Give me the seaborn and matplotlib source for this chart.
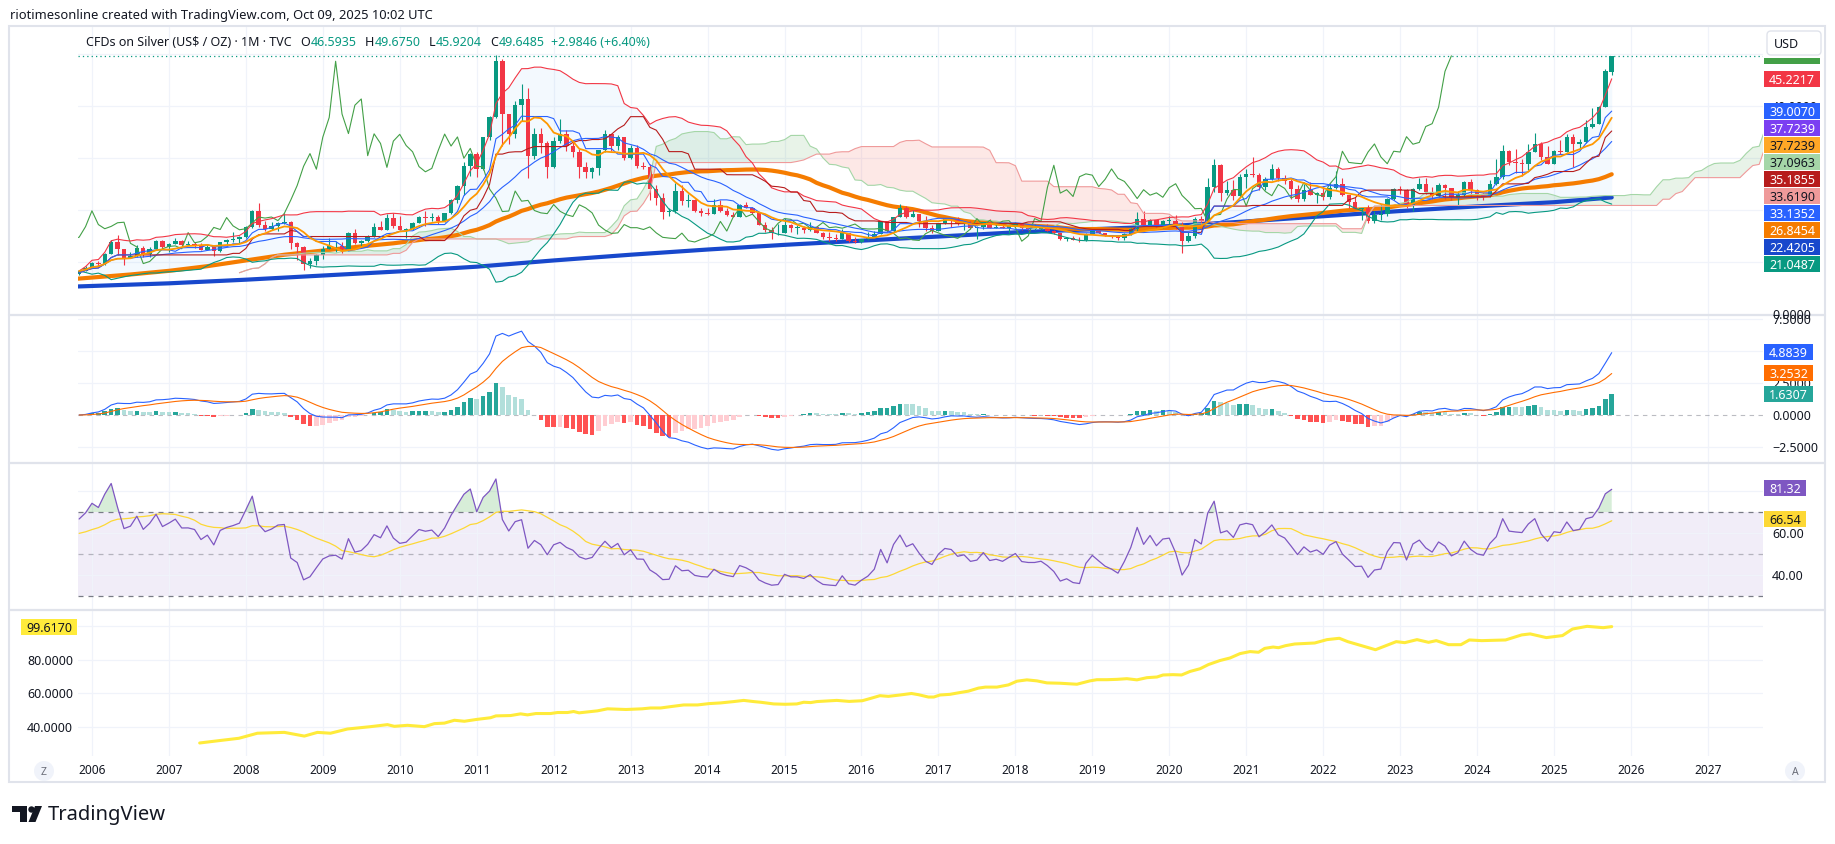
import numpy as np
import pandas as pd
import matplotlib
matplotlib.use("Agg")
import matplotlib.pyplot as plt
import seaborn as sns
from matplotlib.patches import Rectangle, Circle, Polygon, FancyBboxPatch
from matplotlib.lines import Line2D

sns.set_theme(style="white")
plt.rcParams["font.family"] = ["Noto Sans", "DejaVu Sans"]

# ---------------- data (monthly candles, Nov 2005 .. Oct 2025) ----------------
start_month = "2005-11-01"
opens = [
    7.65, 8.27,
    8.83, 9.88, 9.70, 11.54, 13.85, 12.41, 10.83, 11.16, 12.65, 11.56, 12.45, 13.98,
    12.90, 13.45, 14.10, 13.34, 13.35, 13.22, 12.40, 12.90, 12.08, 13.80, 14.20, 14.45,
    14.77, 16.80, 19.85, 17.20, 16.40, 16.85, 17.55, 17.65, 13.60, 12.90, 9.70, 10.10,
    11.30, 12.55, 13.00, 13.10, 12.55, 15.65, 13.70, 13.95, 14.95, 16.65, 16.25, 18.55,
    16.95, 16.20, 16.40, 17.50, 18.65, 18.45, 18.65, 17.95, 19.35, 21.90, 24.70, 28.40,
    30.85, 27.85, 34.00, 37.80, 48.60, 38.45, 34.70, 40.15, 41.35, 30.45, 34.65, 32.80,
    28.20, 33.25, 34.55, 32.40, 31.20, 28.35, 27.35, 28.00, 31.45, 34.60, 32.30, 34.05,
    29.95, 31.85, 28.40, 28.30, 24.05, 22.30, 19.70, 19.80, 23.65, 21.70, 21.85, 19.90,
    19.45, 19.30, 21.05, 19.75, 19.10, 18.75, 21.00, 20.40, 19.45, 17.10, 16.15, 15.50,
    15.60, 17.20, 16.60, 16.60, 16.25, 16.75, 15.60, 14.75, 14.60, 14.50, 15.55, 14.10,
    13.85, 14.35, 14.75, 15.45, 17.80, 15.95, 18.65, 20.35, 18.70, 19.20, 17.80, 16.50,
    15.95, 17.45, 18.35, 18.20, 17.25, 17.45, 16.55, 16.70, 17.60, 16.60, 16.75, 16.50,
    16.90, 17.30, 16.45, 16.35, 16.35, 16.45, 16.05, 15.50, 14.50, 14.65, 14.25, 14.15,
    15.45, 16.05, 15.60, 15.15, 14.90, 14.55, 15.30, 16.35, 18.35, 17.00, 18.00, 17.10,
    17.85, 17.95, 16.65, 14.00, 15.00, 18.35, 17.80, 24.35, 28.60, 23.25, 23.90, 22.60,
    26.40, 26.95, 26.70, 24.50, 25.90, 27.90, 26.10, 25.50, 23.95, 22.20, 23.90, 22.85,
    23.30, 22.45, 24.30, 25.05, 22.80, 21.60, 20.25, 20.30, 17.85, 19.00, 19.15, 22.10,
    23.95, 23.90, 20.80, 24.10, 25.00, 23.55, 22.75, 24.90, 24.15, 22.30, 22.90, 25.30,
    23.80, 22.95, 22.70, 24.95, 26.40, 31.30, 29.15, 29.00, 28.90, 31.15, 32.70, 30.20,
    28.90, 31.30, 31.15, 34.10, 32.65, 33.00, 36.05, 36.60, 39.75, 46.5935,
]
highs = [
    8.35, 9.23,
    9.97, 10.20, 11.79, 14.20, 15.21, 12.50, 12.00, 13.20, 13.00, 12.80, 14.20, 14.20,
    13.70, 14.65, 14.30, 14.10, 13.80, 13.75, 13.40, 13.10, 13.85, 14.40, 15.80, 14.96,
    17.00, 20.00, 21.35, 17.80, 17.60, 17.70, 19.45, 17.80, 13.80, 13.00, 10.80, 11.50,
    13.00, 14.60, 14.00, 13.80, 15.80, 16.30, 14.30, 15.20, 17.50, 17.95, 19.20, 19.40,
    18.90, 16.45, 17.70, 18.80, 19.80, 19.50, 19.00, 19.50, 22.15, 24.85, 29.30, 31.00,
    31.10, 34.10, 38.15, 49.80, 49.00, 38.50, 40.95, 44.25, 43.40, 35.70, 35.80, 33.20,
    34.10, 37.50, 35.40, 33.20, 31.80, 29.30, 28.30, 31.60, 35.35, 34.70, 34.50, 34.10,
    32.45, 32.45, 29.20, 28.85, 24.90, 23.30, 20.40, 25.10, 24.80, 23.00, 22.10, 20.40,
    20.40, 22.20, 22.00, 20.30, 19.70, 21.25, 21.60, 20.55, 19.55, 17.60, 16.75, 17.30,
    18.50, 17.35, 17.20, 16.90, 17.75, 16.95, 15.70, 15.70, 15.35, 16.40, 15.60, 14.80,
    14.50, 15.80, 16.00, 17.85, 17.90, 18.70, 21.15, 20.70, 20.00, 19.30, 18.90, 17.20,
    17.50, 18.50, 18.45, 18.65, 17.50, 17.90, 16.95, 17.70, 18.20, 17.45, 17.35, 17.10,
    17.70, 17.40, 16.75, 17.35, 16.75, 17.30, 16.10, 15.55, 14.90, 14.95, 14.80, 15.60,
    16.20, 16.20, 15.65, 15.25, 15.00, 15.50, 16.60, 19.65, 19.75, 18.20, 18.10, 18.05,
    18.85, 18.95, 17.60, 15.75, 18.70, 18.90, 26.20, 29.85, 28.90, 25.60, 25.85, 26.95,
    27.90, 30.10, 27.10, 26.40, 28.75, 28.30, 26.75, 25.90, 24.85, 25.05, 25.40, 23.40,
    24.70, 25.10, 27.50, 26.20, 22.90, 22.50, 20.40, 20.90, 19.80, 21.25, 22.25, 24.30,
    24.55, 24.00, 24.15, 26.10, 26.15, 24.50, 25.25, 25.00, 24.25, 23.70, 25.50, 25.90,
    24.10, 23.30, 25.75, 29.80, 32.50, 31.55, 31.75, 29.85, 32.70, 34.90, 33.00, 32.30,
    31.60, 33.40, 34.60, 34.60, 33.70, 37.30, 39.55, 40.00, 47.20, 49.675,
]
lows = [
    7.52, 8.20,
    8.83, 9.12, 9.50, 11.50, 11.30, 9.46, 10.80, 11.00, 10.90, 10.90, 12.40, 12.50,
    12.00, 13.40, 12.80, 13.30, 12.75, 12.30, 12.40, 11.20, 12.00, 13.20, 13.85, 13.60,
    14.70, 16.50, 16.80, 15.95, 16.20, 16.00, 17.35, 12.50, 10.40, 8.45, 8.90, 9.45,
    10.60, 12.50, 12.00, 11.70, 12.40, 13.50, 12.60, 13.80, 14.90, 16.10, 16.20, 16.60,
    16.20, 14.60, 16.20, 17.50, 16.90, 17.90, 17.30, 17.60, 19.30, 21.40, 22.85, 26.60,
    26.30, 27.60, 33.45, 37.60, 32.35, 32.60, 33.75, 37.20, 26.15, 29.80, 30.90, 26.15,
    28.00, 32.80, 31.30, 30.10, 26.10, 26.10, 26.15, 26.80, 31.20, 31.25, 31.60, 29.70,
    29.80, 28.00, 27.90, 22.00, 20.90, 18.20, 18.80, 19.40, 20.95, 20.60, 19.60, 18.80,
    19.05, 19.20, 19.55, 18.80, 18.70, 18.70, 20.35, 19.20, 17.05, 15.70, 14.45, 15.10,
    15.50, 15.70, 15.30, 15.65, 16.00, 15.55, 14.40, 13.95, 14.00, 14.40, 13.90, 13.65,
    13.60, 14.25, 14.65, 15.30, 15.80, 15.75, 18.60, 18.55, 18.65, 16.70, 16.05, 15.65,
    15.90, 17.30, 16.80, 17.10, 16.20, 16.40, 14.35, 16.40, 16.50, 16.50, 16.45, 15.65,
    16.90, 16.10, 16.15, 16.10, 16.10, 15.95, 15.35, 14.30, 13.95, 14.20, 13.90, 14.10,
    15.30, 15.55, 14.95, 14.70, 14.25, 14.30, 15.10, 16.05, 16.95, 16.95, 16.45, 16.60,
    17.35, 16.40, 11.65, 13.80, 14.60, 17.05, 17.70, 23.40, 21.70, 22.90, 21.90, 22.50,
    24.30, 26.30, 23.80, 23.85, 25.80, 25.65, 25.00, 22.20, 21.45, 21.80, 22.80, 21.40,
    22.00, 22.15, 24.00, 22.75, 20.45, 20.10, 18.15, 17.55, 17.55, 18.10, 18.85, 21.90,
    23.15, 20.40, 19.90, 23.80, 23.10, 22.10, 22.50, 22.20, 21.95, 20.70, 22.60, 22.50,
    21.95, 21.95, 22.50, 24.90, 26.05, 28.60, 27.05, 26.45, 27.70, 31.10, 29.70, 28.75,
    28.75, 30.80, 31.10, 28.35, 31.65, 32.80, 35.85, 36.50, 39.75, 45.9204,
]
closes = [
    8.27, 8.83,
    9.88, 9.70, 11.54, 13.85, 12.41, 10.83, 11.16, 12.65, 11.56, 12.45, 13.98, 12.90,
    13.45, 14.10, 13.34, 13.35, 13.22, 12.40, 12.90, 12.08, 13.80, 14.20, 14.45, 14.77,
    16.80, 19.85, 17.20, 16.40, 16.85, 17.55, 17.65, 13.60, 12.90, 9.70, 10.10, 11.30,
    12.55, 13.00, 13.10, 12.55, 15.65, 13.70, 13.95, 14.95, 16.65, 16.25, 18.55, 16.95,
    16.20, 16.40, 17.50, 18.65, 18.45, 18.65, 17.95, 19.35, 21.90, 24.70, 28.40, 30.85,
    27.85, 34.00, 37.80, 48.60, 38.45, 34.70, 40.15, 41.35, 30.45, 34.65, 32.80, 28.20,
    33.25, 34.55, 32.40, 31.20, 28.35, 27.35, 28.00, 31.45, 34.60, 32.30, 34.05, 29.95,
    31.85, 28.40, 28.30, 24.05, 22.30, 19.70, 19.80, 23.65, 21.70, 21.85, 19.90, 19.45,
    19.30, 21.05, 19.75, 19.10, 18.75, 21.00, 20.40, 19.45, 17.10, 16.15, 15.50, 15.60,
    17.20, 16.60, 16.60, 16.25, 16.75, 15.60, 14.75, 14.60, 14.50, 15.55, 14.10, 13.85,
    14.35, 14.75, 15.45, 17.80, 15.95, 18.65, 20.35, 18.70, 19.20, 17.80, 16.50, 15.95,
    17.45, 18.35, 18.20, 17.25, 17.45, 16.55, 16.70, 17.60, 16.60, 16.75, 16.50, 16.90,
    17.30, 16.45, 16.35, 16.35, 16.45, 16.05, 15.50, 14.50, 14.65, 14.25, 14.15, 15.45,
    16.05, 15.60, 15.15, 14.90, 14.55, 15.30, 16.35, 18.35, 17.00, 18.00, 17.10, 17.85,
    17.95, 16.65, 14.00, 15.00, 18.35, 17.80, 24.35, 28.60, 23.25, 23.90, 22.60, 26.40,
    26.95, 26.70, 24.50, 25.90, 27.90, 26.10, 25.50, 23.95, 22.20, 23.90, 22.85, 23.30,
    22.45, 24.30, 25.05, 22.80, 21.60, 20.25, 20.30, 17.85, 19.00, 19.15, 22.10, 23.95,
    23.90, 20.80, 24.10, 25.00, 23.55, 22.75, 24.90, 24.15, 22.30, 22.90, 25.30, 23.80,
    22.95, 22.70, 24.95, 26.40, 31.30, 29.15, 29.00, 28.90, 31.15, 32.70, 30.20, 28.90,
    31.30, 31.15, 34.10, 32.65, 33.00, 36.05, 36.60, 39.75, 46.66, 49.6485,
]

# long moving averages (history before the visible window)
sma50_early = [(2005.82, 6.8), (2006.5, 7.6), (2007.0, 8.3), (2007.5, 9.2), (2008.0, 10.3),
               (2008.5, 11.4), (2009.0, 12.2), (2009.5, 13.0)]
sma200_points = [(2005.82, 5.3), (2007.0, 5.9), (2008.0, 6.6), (2009.0, 7.4), (2010.0, 8.2),
                 (2011.0, 9.1), (2012.0, 10.3), (2013.0, 11.4), (2014.0, 12.4), (2015.0, 13.3),
                 (2016.0, 14.1), (2017.0, 14.9), (2018.0, 15.7), (2019.0, 16.3), (2020.0, 16.9),
                 (2021.0, 17.8), (2022.0, 18.8), (2023.0, 19.8), (2024.0, 20.7), (2025.0, 21.5),
                 (2025.75, 22.42)]
# RSI state at the left edge (RSI ~66, its MA ~60)
rsi_seed_gain = 0.30
rsi_seed_loss = 0.15
rsi_prior_mean = 59.3

bottom_points = [
    (2007.40, 30.5), (2007.67, 32.0), (2007.91, 33.3), (2008.15, 36.3), (2008.50, 36.8), (2008.76, 34.6),
    (2008.93, 36.8), (2009.10, 36.3), (2009.32, 38.8), (2009.62, 40.2), (2009.84, 41.4), (2009.93, 40.4),
    (2010.10, 41.0), (2010.32, 40.2), (2010.45, 42.0), (2010.58, 42.3), (2010.71, 44.0), (2010.84, 43.4),
    (2011.00, 44.5), (2011.18, 45.5), (2011.25, 46.6), (2011.44, 46.8), (2011.57, 47.8), (2011.66, 47.2),
    (2011.77, 48.0), (2011.96, 48.0), (2012.05, 48.6), (2012.18, 48.6), (2012.26, 49.2), (2012.33, 48.4),
    (2012.57, 49.6), (2012.70, 50.8), (2012.94, 50.4), (2013.15, 50.8), (2013.26, 51.3), (2013.39, 51.3),
    (2013.52, 52.1), (2013.69, 53.1), (2013.87, 53.1), (2014.02, 53.9), (2014.17, 54.3), (2014.34, 55.1),
    (2014.47, 55.8), (2014.60, 55.1), (2014.69, 54.7), (2014.86, 53.7), (2015.01, 53.5), (2015.16, 53.7),
    (2015.25, 54.7), (2015.34, 54.5), (2015.42, 55.1), (2015.68, 55.8), (2015.84, 55.2), (2016.01, 55.6),
    (2016.12, 57.0), (2016.24, 58.6), (2016.35, 58.2), (2016.50, 59.0), (2016.65, 59.9), (2016.74, 59.2),
    (2016.87, 57.8), (2016.94, 57.8), (2017.02, 59.0), (2017.15, 59.4), (2017.26, 60.3), (2017.39, 61.3),
    (2017.52, 63.1), (2017.61, 63.7), (2017.76, 63.7), (2017.91, 65.0), (2018.02, 67.2), (2018.15, 68.0),
    (2018.28, 67.4), (2018.41, 66.2), (2018.58, 66.0), (2018.80, 65.4), (2018.97, 67.4), (2019.06, 68.1),
    (2019.19, 68.1), (2019.32, 68.3), (2019.45, 68.7), (2019.58, 68.0), (2019.71, 69.3), (2019.84, 69.7),
    (2019.92, 70.9), (2020.05, 71.1), (2020.16, 70.9), (2020.27, 73.0), (2020.40, 74.6), (2020.51, 77.1),
    (2020.66, 79.5), (2020.79, 81.0), (2020.92, 83.6), (2021.05, 84.8), (2021.16, 84.4), (2021.24, 86.7),
    (2021.35, 87.5), (2021.42, 87.1), (2021.51, 88.3), (2021.63, 89.3), (2021.89, 89.9), (2022.05, 91.9),
    (2022.21, 92.7), (2022.32, 90.7), (2022.47, 88.7), (2022.68, 85.9), (2022.95, 90.7), (2023.06, 90.1),
    (2023.22, 91.9), (2023.37, 90.3), (2023.47, 91.3), (2023.63, 88.9), (2023.79, 88.9), (2023.90, 91.7),
    (2024.06, 91.3), (2024.37, 91.7), (2024.58, 94.7), (2024.69, 95.3), (2024.90, 93.1), (2025.11, 94.3),
    (2025.24, 98.2), (2025.43, 99.8), (2025.64, 99.0), (2025.75, 99.62),
]

main_label_values = [49.6485, 45.2217, 39.0070, 37.7239, 37.7239, 37.0963, 35.1855, 33.6190,
                     33.1352, 26.8454, 22.4205, 21.0487]
main_label_colors = ["#43A047", "#F23645", "#2962FF", "#7B3FF2", "#FFA726", "#A5D6A7", "#B71C1C",
                     "#EF9A9A", "#2962FF", "#F57C00", "#1848CC", "#089981"]
main_label_text = ["white", "white", "white", "white", "#131722", "#131722", "white",
                   "#131722", "white", "white", "white", "white"]
macd_label_values = [4.8839, 3.2532, 1.6307]
macd_label_colors = ["#2962FF", "#FF6D00", "#26A69A"]
rsi_label_values = [81.32, 66.54]
rsi_label_colors = ["#7E57C2", "#FDD835"]
rsi_label_text = ["white", "#131722"]
bottom_label_value = 99.6170

main_ticks = [0, 10, 20, 30, 40, 50]
macd_ticks = [-2.5, 0, 2.5, 5.0, 7.5]
rsi_ticks = [40, 60, 80]
bottom_ticks = [40, 60, 80, 100]
year_ticks = list(range(2006, 2028))

header_text = "riotimesonline created with TradingView.com, Oct 09, 2025 10:02 UTC"
symbol_text = "CFDs on Silver (US$ / OZ) \u00b7 1M \u00b7 TVC"
ohlc_pairs = [("O", "46.5935"), ("H", "49.6750"), ("L", "45.9204"), ("C", "49.6485")]
change_text = "+2.9846 (+6.40%)"

assert len(opens) == len(highs) == len(lows) == len(closes), (len(opens), len(highs), len(lows), len(closes))

# ---------------- indicators from the candles ----------------
dates = pd.date_range(start_month, periods=len(closes), freq="MS")
x = np.asarray(dates.year + (dates.month - 1) / 12.0, float)
o = pd.Series(opens, dtype=float)
h = pd.Series(highs, dtype=float)
l = pd.Series(lows, dtype=float)
c = pd.Series(closes, dtype=float)

sma9 = c.rolling(9, min_periods=1).mean()
sma50 = c.rolling(50, min_periods=50).mean()
bb_mid = c.rolling(20, min_periods=1).mean()
bb_sd = c.rolling(20, min_periods=1).std(ddof=0)
bb_up = bb_mid + 2 * bb_sd
bb_lo = bb_mid - 2 * bb_sd
conv = (h.rolling(9, min_periods=1).max() + l.rolling(9, min_periods=1).min()) / 2
base = (h.rolling(26, min_periods=1).max() + l.rolling(26, min_periods=1).min()) / 2
spanA = (conv + base) / 2
spanB = (h.rolling(52, min_periods=1).max() + l.rolling(52, min_periods=1).min()) / 2
x_lead = x + 25 / 12.0
x_lag = x - 25 / 12.0

ema12 = c.ewm(span=12, adjust=False).mean()
ema26 = c.ewm(span=26, adjust=False).mean()
macd = ema12 - ema26
signal = macd.ewm(span=9, adjust=False).mean()
hist = (macd - signal).values

# Wilder RSI(14) continuing from the state at the left edge
diffs = c.diff().values
ag, al_ = rsi_seed_gain, rsi_seed_loss
rsi_list = []
for i in range(len(c)):
    if i > 0:
        d = diffs[i]
        ag = (ag * 13 + max(d, 0.0)) / 14
        al_ = (al_ * 13 + max(-d, 0.0)) / 14
    rsi_list.append(100 - 100 / (1 + ag / al_) if al_ > 0 else 100.0)
rsi = pd.Series(rsi_list)
rsi_pad = pd.concat([pd.Series([rsi_prior_mean] * 13), rsi], ignore_index=True)
rsi_ma = rsi_pad.rolling(14).mean().iloc[13:].reset_index(drop=True)

# ---------------- figure / layout ----------------
W, H = 1835, 845
fig = plt.figure(figsize=(W / 100, H / 100), dpi=100, facecolor="white")
PX_L, PX_R = 78, 1763
XLIM = (2005.8187, 2027.716)
DARK = "#131722"
GRID = "#F0F3FA"


def make_ax(top, bottom, ylim, yticks):
    ax = fig.add_axes([PX_L / W, 1 - bottom / H, (PX_R - PX_L) / W, (bottom - top) / H])
    ax.set_facecolor("white")
    ax.set_xlim(*XLIM)
    ax.set_ylim(*ylim)
    ax.set_xticks(year_ticks)
    ax.set_yticks(yticks)
    ax.grid(True, color=GRID, linewidth=0.9)
    ax.set_axisbelow(True)
    ax.tick_params(length=0, labelbottom=False, labelleft=False)
    for s in ax.spines.values():
        s.set_visible(False)
    return ax


ax_main = make_ax(28, 316, (-0.19, 55.19), [10, 20, 30, 40, 50])
ax_macd = make_ax(316, 464, (-3.75, 7.8125), [-2.5, 2.5, 5.0, 7.5])
ax_rsi = make_ax(464, 611, (23.33, 93.33), [40, 60, 80])
ax_bot = make_ax(611, 757, (22.77, 109.5), [40, 60, 80, 100])


def sline(ax, xs, ys, color, lw, z, alpha=1.0, ls="-"):
    xs = np.asarray(xs, float)
    ys = np.asarray(ys, float)
    m = np.isfinite(xs) & np.isfinite(ys)
    sns.lineplot(x=xs[m], y=ys[m], ax=ax, color=color, linewidth=lw, alpha=alpha,
                 linestyle=ls, zorder=z, estimator=None, sort=False, legend=False)


# ---- main pane ----
ax_main.fill_between(x, bb_up, bb_lo, color="#2196F3", alpha=0.05, linewidth=0, zorder=1)
A = spanA.values
B = spanB.values
ax_main.fill_between(x_lead, A, B, where=A >= B, interpolate=True, color="#43A047", alpha=0.12,
                     linewidth=0, zorder=1)
ax_main.fill_between(x_lead, A, B, where=A < B, interpolate=True, color="#F44336", alpha=0.12,
                     linewidth=0, zorder=1)

s50x = [p[0] for p in sma50_early] + list(x[49:])
s50y = [p[1] for p in sma50_early] + list(sma50.values[49:])
sline(ax_main, [p[0] for p in sma200_points], [p[1] for p in sma200_points], "#1848CC", 3.0, 2)
sline(ax_main, s50x, s50y, "#F57C00", 3.0, 2)

up = (c >= o).values
col = np.where(up, "#089981", "#F23645")
ax_main.vlines(x, l, h, colors=col, linewidth=0.8, zorder=3)
body_lo = np.minimum(o.values, c.values)
body_h = np.maximum(np.abs(c.values - o.values), 0.15)
ax_main.bar(x, body_h, bottom=body_lo, width=0.058, color=col, linewidth=0, zorder=3.1)

sline(ax_main, x_lead, A, "#A5D6A7", 0.8, 4)
sline(ax_main, x_lead, B, "#EF9A9A", 0.8, 4)
sline(ax_main, x_lag, c, "#43A047", 0.8, 4)
sline(ax_main, x, bb_up, "#F23645", 0.8, 4)
sline(ax_main, x, bb_lo, "#089981", 0.8, 4)
sline(ax_main, x, bb_mid, "#2962FF", 0.8, 4)
sline(ax_main, x, base, "#B71C1C", 0.8, 4)
sline(ax_main, x, conv, "#2962FF", 0.8, 4)
sline(ax_main, x, sma9, "#FF9800", 1.3, 4.5)
ax_main.axhline(closes[-1], color="#089981", linewidth=0.9, linestyle=(0, (1, 2.5)), zorder=5)

# ---- MACD pane ----
hcol = []
for i, v in enumerate(hist):
    prev = hist[i - 1] if i > 0 else v
    if v >= 0:
        hcol.append("#26A69A" if v >= prev else "#B2DFDB")
    else:
        hcol.append("#FF5252" if v < prev else "#FFCDD2")
ax_macd.bar(x, hist, width=0.06, color=hcol, linewidth=0, zorder=2)
ax_macd.axhline(0, color="#787B86", alpha=0.5, linewidth=0.8, linestyle=(0, (4, 4)), zorder=1.5)
sline(ax_macd, x, macd, "#2962FF", 0.8, 3)
sline(ax_macd, x, signal, "#FF6D00", 0.8, 3)

# ---- RSI pane ----
ax_rsi.axhspan(30, 70, color="#7E57C2", alpha=0.1, linewidth=0, zorder=0.3)
for lvl, alv in ((70, 1.0), (50, 0.5), (30, 1.0)):
    ax_rsi.axhline(lvl, color="#787B86", alpha=alv, linewidth=0.9, linestyle=(0, (4, 4)), zorder=1)
rv = rsi.values
ax_rsi.fill_between(x, 70, rv, where=rv >= 70, interpolate=True, color="#4CAF50", alpha=0.22,
                    linewidth=0, zorder=1.2)
sline(ax_rsi, x, rsi_ma, "#FDD835", 0.9, 2)
sline(ax_rsi, x, rsi, "#7E57C2", 0.9, 3)

# ---- bottom pane ----
sline(ax_bot, [p[0] for p in bottom_points], [p[1] for p in bottom_points], "#FFEB3B", 2.2, 3)

for ax in (ax_main, ax_macd, ax_rsi, ax_bot):
    ax.set_xlabel("")
    ax.set_ylabel("")
    ax.set_xlim(*XLIM)
ax_main.set_ylim(-0.19, 55.19)
ax_macd.set_ylim(-3.75, 7.8125)
ax_rsi.set_ylim(23.33, 93.33)
ax_bot.set_ylim(22.77, 109.5)


# ---------------- figure-level decoration ----------------
def frect(x0, y0, x1, y1, **kw):
    r = Rectangle((x0 / 100, (H - y1) / 100), (x1 - x0) / 100, (y1 - y0) / 100,
                  transform=fig.dpi_scale_trans, **kw)
    fig.add_artist(r)
    return r


def fline(x0, y0, x1, y1, **kw):
    ln = Line2D([x0 / 100, x1 / 100], [(H - y0) / 100, (H - y1) / 100],
                transform=fig.dpi_scale_trans, **kw)
    fig.add_artist(ln)
    return ln


def ftext(px, py, s, **kw):
    return fig.text(px / W, 1 - py / H, s, **kw)


def data_py(ax, v):
    return H - ax.transData.transform((XLIM[0], v))[1]


def data_px(ax, xv):
    return ax.transData.transform((xv, 0))[0]


def fmt(v, d):
    s = f"{v:.{d}f}"
    return s.replace("-", "\u2212")


def stack_positions(ax, values, spacing=17):
    order = sorted(range(len(values)), key=lambda i: -values[i])
    prev = -1e9
    pos = {}
    for i in order:
        py = max(data_py(ax, values[i]), prev + spacing)
        prev = py
        pos[i] = py
    return pos


HB = 16
main_pos = stack_positions(ax_main, main_label_values)
macd_pos = stack_positions(ax_macd, macd_label_values)
rsi_pos = stack_positions(ax_rsi, rsi_label_values)
bot_py = data_py(ax_bot, bottom_label_value)


def covered(py, centers, extra=()):
    # True when a tick text (about 12 px tall) is hidden by the label boxes (gaps < 2.5 px ignored)
    spans = sorted([(cy - HB / 2, cy + HB / 2) for cy in centers] + list(extra))
    lo, hi = py - 6, py + 6
    cur = lo
    for a, b in spans:
        if a - 2.5 <= cur < b:
            cur = max(cur, b)
    return cur >= hi


# frame and pane separators
frect(9, 27, 1825, 783, facecolor="none", edgecolor="#E0E3EB", linewidth=1.5, zorder=1)
for yy in (316, 464, 611):
    fline(9, yy, 1825, yy, color="#E0E3EB", linewidth=1.6, zorder=2)

# price-scale tick labels (those hidden by value labels are not drawn)
usd_span = [(27, 58.5)]
for v in main_ticks:
    py = data_py(ax_main, v)
    if not covered(py, main_pos.values(), usd_span):
        ftext(1772, py + 0.5, fmt(v, 4), fontsize=9, color=DARK, va="center", zorder=3)
for v in macd_ticks:
    py = data_py(ax_macd, v)
    if not covered(py, macd_pos.values()):
        ftext(1772, py + 0.5, fmt(v, 4), fontsize=9, color=DARK, va="center", zorder=3)
for v in rsi_ticks:
    py = data_py(ax_rsi, v)
    if not covered(py, rsi_pos.values()):
        ftext(1772, py + 0.5, fmt(v, 2), fontsize=9, color=DARK, va="center", zorder=3)
for v in bottom_ticks:
    py = data_py(ax_bot, v)
    if not covered(py, [bot_py]):
        ftext(27, py + 0.5, fmt(v, 4), fontsize=9, color=DARK, va="center", zorder=3)


def draw_labels(values, pos, colors, tcolors, decimals, x0):
    for i, v in enumerate(values):
        py = pos[i]
        txt = fmt(v, decimals)
        w = 7.0 * len(txt) + 7
        frect(x0, py - HB / 2, x0 + w, py + HB / 2, facecolor=colors[i], edgecolor="none", zorder=20)
        if py - 5 > 58.5:
            ftext(x0 + w / 2, py + 0.5, txt, color=tcolors[i], fontsize=9, ha="center",
                  va="center", zorder=21)


draw_labels(main_label_values, main_pos, main_label_colors, main_label_text, 4, 1764)
draw_labels(macd_label_values, macd_pos, macd_label_colors, ["white"] * 3, 4, 1764)
draw_labels(rsi_label_values, rsi_pos, rsi_label_colors, rsi_label_text, 2, 1764)

# left label of bottom pane
frect(21, bot_py - 8, 77, bot_py + 8, facecolor="#FFEB3B", edgecolor="none", zorder=20)
ftext(49, bot_py + 0.5, fmt(bottom_label_value, 4), color=DARK, fontsize=9, ha="center",
      va="center", zorder=21)

# USD box (with the white margin that hides the top price label)
frect(1763, 28, 1824, 58.5, facecolor="white", edgecolor="none", zorder=29)
box = FancyBboxPatch((1767 / 100, (H - 56) / 100), 54 / 100, 24 / 100,
                     boxstyle="round,pad=0,rounding_size=0.04", transform=fig.dpi_scale_trans,
                     facecolor="white", edgecolor="#E0E3EB", linewidth=1.0, zorder=30)
fig.add_artist(box)
ftext(1786, 44.5, "USD", fontsize=9, color=DARK, ha="center", va="center", zorder=31)

# time axis
for yr in year_ticks:
    ftext(data_px(ax_bot, yr), 771, str(yr), fontsize=8.6, color=DARK, ha="center", va="center", zorder=3)
for cx, letter in ((44, "Z"), (1795, "A")):
    fig.add_artist(Circle((cx / 100, (H - 772) / 100), 0.10, transform=fig.dpi_scale_trans,
                          facecolor="#F0F3FA", edgecolor="none", zorder=3))
    ftext(cx, 772.5, letter, fontsize=7.5, color="#6A6D78", ha="center", va="center", zorder=4)

# header and legend
ftext(10, 15, header_text, fontsize=9.3, color=DARK, ha="left", va="center")
renderer = fig.canvas.get_renderer()
GREEN = "#089981"
pieces = [(symbol_text, DARK, 0)]
for k, val in ohlc_pairs:
    pieces.append((k, DARK, 8 if k != "O" else 9))
    pieces.append((val, GREEN, 0.5))
pieces.append((change_text, GREEN, 7))
cur = 86
for txt, colr, gap in pieces:
    cur += gap
    t = ftext(cur, 42, txt, fontsize=9, color=colr, ha="left", va="center", zorder=6)
    cur = t.get_window_extent(renderer).x1

# TradingView logo
frect(12, 807, 27, 813, facecolor="#131722", edgecolor="none", zorder=5)
frect(20, 807, 27, 823, facecolor="#131722", edgecolor="none", zorder=5)
fig.add_artist(Circle((31.5 / 100, (H - 810.5) / 100), 0.032, transform=fig.dpi_scale_trans,
                      facecolor="#131722", edgecolor="none", zorder=5))
fig.add_artist(Polygon([(35 / 100, (H - 807) / 100), (42 / 100, (H - 807) / 100),
                        (35.5 / 100, (H - 823) / 100), (28.5 / 100, (H - 823) / 100)],
                       closed=True, transform=fig.dpi_scale_trans, facecolor="#131722",
                       edgecolor="none", zorder=5))
ftext(48, 815, "TradingView", fontsize=14.5, fontweight="bold", color="#131722",
      ha="left", va="center", zorder=5)

fig.savefig("out.png", dpi=100, facecolor="white")
